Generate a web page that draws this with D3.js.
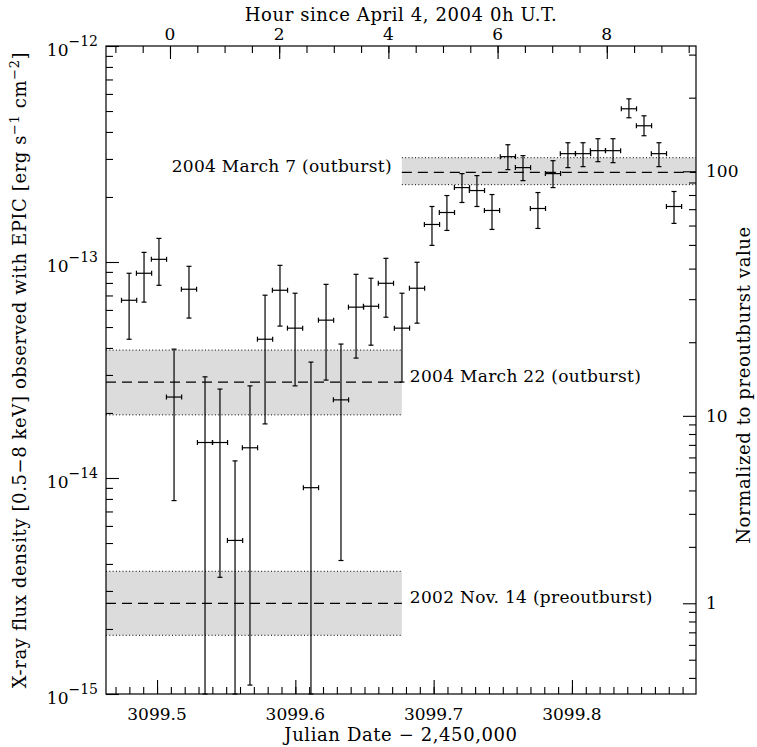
<!DOCTYPE html>
<html>
<head>
<meta charset="utf-8">
<script src="https://cdn.jsdelivr.net/npm/d3@7"></script>
<style>
body { margin: 0; background: #fff; }
text { font-family: "DejaVu Serif", serif; fill: #000; }
.title { font-size: 18px; letter-spacing: 0.6px; }
</style>
</head>
<body>
<div id="chart"></div>
<script>
// Setup chart dimensions
var svgWidth = 757;
var svgHeight = 747;
var margin = {top: 46, right: 61, bottom: 53, left: 106};
var width = svgWidth - margin.left - margin.right;
var height = svgHeight - margin.top - margin.bottom;

// Data: Julian date - 2,450,000 and flux (units of 1e-15 erg/s/cm2)
var jd = [3099.4798, 3099.4906, 3099.5014, 3099.5123, 3099.5231, 3099.5347, 3099.5455,
  3099.5564, 3099.5672, 3099.5781, 3099.5889, 3099.5998, 3099.6113, 3099.6222, 3099.6330,
  3099.6439, 3099.6547, 3099.6655, 3099.6771, 3099.6880, 3099.6988, 3099.7096, 3099.7205,
  3099.7313, 3099.7422, 3099.7537, 3099.7646, 3099.7754, 3099.7863, 3099.7971, 3099.8080,
  3099.8188, 3099.8297, 3099.8412, 3099.8521, 3099.8629, 3099.8738];
var jdErr = 0.0055;
var flux = [66.5, 88.7, 102.9, 23.7, 74.8, 14.6, 14.6, 5.14, 13.8, 43.9, 74.0, 49.4, 9.02,
  53.8, 23.0, 61.8, 62.4, 79.7, 49.4, 75.6, 149.2, 169.5, 221.1, 214.2, 173.2, 307.4, 273.5,
  176.9, 256.6, 317.4, 317.4, 327.7, 327.7, 512.0, 427.3, 317.4, 180.7];
var fluxHi = [88.7, 110.8, 128.6, 39.5, 95.5, 29.4, 25.8, 12.0, 26.7, 70.2, 96.5, 71.7, 34.4,
  78.8, 41.7, 87.7, 84.1, 104.0, 71.7, 99.7, 180.7, 203.1, 256.6, 251.2, 205.3, 349.1, 310.7,
  209.7, 294.5, 356.6, 356.6, 372.2, 372.2, 569.3, 475.2, 356.6, 212.0];
var fluxLo = [43.9, 65.2, 78.0, 7.86, 55.0, 0, 3.47, 0, 1.10, 17.8, 50.5, 26.7, 0,
  28.4, 4.15, 35.9, 41.2, 55.5, 27.8, 52.1, 119.4, 140.0, 188.6, 180.7, 141.5, 267.7, 238.1,
  143.0, 221.1, 273.5, 276.4, 291.4, 288.4, 465.3, 384.2, 276.4, 150.9];

// Reference levels (shaded bands)
var bandNames = ["2004 March 7 (outburst)", "2004 March 22 (outburst)", "2002 Nov. 14 (preoutburst)"];
var bandMid = [260, 27.8, 2.63];
var bandHigh = [304, 39.1, 3.70];
var bandLow = [228, 19.6, 1.87];
var bandSplit = 3099.677;
var preoutburst = 2.63;

// Axis ranges and ticks
var jdRange = [3099.4631, 3099.8897];
var hourRange = [-1.172, 9.634];
var fluxRange = [1, 1000];
var jdTicks = [3099.5, 3099.6, 3099.7, 3099.8];
var hourTicks = [0, 2, 4, 6, 8];
var decadeExp = [-15, -14, -13, -12];
var ratioTicks = [1, 10, 100];
// flux level at which the original figure puts its "10" mark on the right axis
var ratioTenAt = 19.4;
var ratioMinor = [0.4, 0.5, 0.6, 0.7, 0.8, 0.9, 2, 3, 4, 5, 6, 7, 8, 9,
  20, 30, 40, 50, 60, 70, 80, 90, 200, 300];

var svg = d3.select("#chart")
  .append("svg")
  .attr("width", svgWidth)
  .attr("height", svgHeight);

var chartGroup = svg.append("g")
  .attr("transform", `translate(${margin.left}, ${margin.top})`);

// Scales
var x = d3.scaleLinear().domain(jdRange).range([0, width]);
var xTop = d3.scaleLinear().domain(hourRange).range([0, width]);
var y = d3.scaleLog().domain(fluxRange).range([height, 0]).clamp(true);
var yR = d3.scaleLog()
  .domain([1, 10, 100])
  .range([y(preoutburst), y(ratioTenAt), y(preoutburst * 100)]);

function fy(v) { return y(Math.max(v, fluxRange[0])); }

// Bands
var bands = bandNames.map(function(name, i) {
  return {
    name: name, mid: bandMid[i], hi: bandHigh[i], lo: bandLow[i],
    x0: i === 0 ? bandSplit : jdRange[0],
    x1: i === 0 ? jdRange[1] : bandSplit,
    left: i === 0
  };
});

var bandGroup = chartGroup.selectAll("g.band")
  .data(bands)
  .enter()
  .append("g")
  .attr("class", "band");

bandGroup.append("rect")
  .attr("x", d => x(d.x0))
  .attr("width", d => x(d.x1) - x(d.x0))
  .attr("y", d => y(d.hi))
  .attr("height", d => y(d.lo) - y(d.hi))
  .attr("fill", "#dcdcdc");

["hi", "lo"].forEach(function(k) {
  bandGroup.append("line")
    .attr("x1", d => x(d.x0))
    .attr("x2", d => x(d.x1))
    .attr("y1", d => y(d[k]))
    .attr("y2", d => y(d[k]))
    .attr("stroke", "#000")
    .attr("stroke-width", 1)
    .attr("stroke-dasharray", "1,2.3");
});

bandGroup.append("line")
  .attr("x1", d => x(d.x0))
  .attr("x2", d => x(d.x1))
  .attr("y1", d => y(d.mid))
  .attr("y2", d => y(d.mid))
  .attr("stroke", "#000")
  .attr("stroke-width", 1.2)
  .attr("stroke-dasharray", "10,6");

bandGroup.append("text")
  .attr("x", d => d.left ? x(d.x0) - 10 : x(d.x1) + 8)
  .attr("y", d => y(d.mid))
  .attr("text-anchor", d => d.left ? "end" : "start")
  .attr("font-size", "17px")
  .attr("letter-spacing", "0.3px")
  .text(d => d.name);

// Error bars
var points = jd.map(function(t, i) {
  return {t: t, f: flux[i], hi: fluxHi[i], lo: fluxLo[i]};
});
var cap = 2.5;
var eb = chartGroup.selectAll("g.pt")
  .data(points)
  .enter()
  .append("g")
  .attr("class", "pt")
  .attr("stroke", "#000")
  .attr("stroke-width", 1.2);

eb.append("line")
  .attr("x1", d => x(d.t)).attr("x2", d => x(d.t))
  .attr("y1", d => fy(d.hi)).attr("y2", d => fy(d.lo));
eb.append("line")
  .attr("x1", d => x(d.t) - cap).attr("x2", d => x(d.t) + cap)
  .attr("y1", d => fy(d.hi)).attr("y2", d => fy(d.hi));
eb.append("line")
  .attr("x1", d => x(d.t) - cap).attr("x2", d => x(d.t) + cap)
  .attr("y1", d => fy(d.lo)).attr("y2", d => fy(d.lo));
eb.append("line")
  .attr("x1", d => x(d.t - jdErr)).attr("x2", d => x(d.t + jdErr))
  .attr("y1", d => fy(d.f)).attr("y2", d => fy(d.f));
eb.append("line")
  .attr("x1", d => x(d.t - jdErr)).attr("x2", d => x(d.t - jdErr))
  .attr("y1", d => fy(d.f) - cap).attr("y2", d => fy(d.f) + cap);
eb.append("line")
  .attr("x1", d => x(d.t + jdErr)).attr("x2", d => x(d.t + jdErr))
  .attr("y1", d => fy(d.f) - cap).attr("y2", d => fy(d.f) + cap);

// Tick marks (inward)
function ticks(axisFn, scale, values, size, transform) {
  chartGroup.append("g")
    .attr("transform", transform || null)
    .call(axisFn(scale).tickValues(values).tickSize(size).tickFormat(""))
    .call(g => g.select(".domain").remove())
    .call(g => g.selectAll("line").attr("stroke-width", 1.1));
}

var leftMajor = decadeExp.map(e => Math.pow(10, e + 15));
var leftMinor = [];
decadeExp.slice(0, 3).forEach(function(e) {
  for (var k = 2; k <= 9; k++) leftMinor.push(k * Math.pow(10, e + 15));
});
ticks(d3.axisLeft, y, leftMajor, -13);
ticks(d3.axisLeft, y, leftMinor, -7);

ticks(d3.axisRight, yR, ratioTicks, -13, `translate(${width},0)`);
ticks(d3.axisRight, yR, ratioMinor, -7, `translate(${width},0)`);

var jdMinor = d3.range(3099.47, 3099.885, 0.01).map(v => Math.round(v * 100) / 100);
ticks(d3.axisBottom, x, jdTicks, -14, `translate(0,${height})`);
ticks(d3.axisBottom, x, jdMinor, -7, `translate(0,${height})`);

var hourMinor = d3.range(-1, 9.6, 0.5);
ticks(d3.axisTop, xTop, hourTicks, -13);
ticks(d3.axisTop, xTop, hourMinor, -7);

// Frame
chartGroup.append("rect")
  .attr("width", width)
  .attr("height", height)
  .attr("fill", "none")
  .attr("stroke", "#000")
  .attr("stroke-width", 1.2);

// Tick labels
chartGroup.selectAll("text.jd")
  .data(jdTicks)
  .enter()
  .append("text")
  .attr("class", "jd")
  .attr("x", d => x(d))
  .attr("y", height + 26)
  .attr("text-anchor", "middle")
  .attr("font-size", "17px")
  .text(d => d3.format(".1f")(d));

chartGroup.selectAll("text.hr")
  .data(hourTicks)
  .enter()
  .append("text")
  .attr("class", "hr")
  .attr("x", d => xTop(d))
  .attr("y", -6)
  .attr("text-anchor", "middle")
  .attr("font-size", "17px")
  .text(d => d);

var expLabels = chartGroup.selectAll("text.exp")
  .data(decadeExp)
  .enter()
  .append("text")
  .attr("class", "exp")
  .attr("x", -8)
  .attr("y", d => y(Math.pow(10, d + 15)) + 10)
  .attr("text-anchor", "end")
  .attr("font-size", "17px");
expLabels.append("tspan").text("10");
expLabels.append("tspan").attr("dy", -10).attr("font-size", "14px").text(d => "\u2212" + (-d));

chartGroup.selectAll("text.ratio")
  .data(ratioTicks)
  .enter()
  .append("text")
  .attr("class", "ratio")
  .attr("x", width + 10)
  .attr("y", d => yR(d) + 6)
  .attr("font-size", "17px")
  .text(d => d);

// Axis titles
chartGroup.append("text")
  .attr("class", "title")
  .attr("x", width / 2)
  .attr("y", -25)
  .attr("text-anchor", "middle")
  .text("Hour since April 4, 2004 0h U.T.");

chartGroup.append("text")
  .attr("class", "title")
  .attr("x", width / 2)
  .attr("y", height + 47)
  .attr("text-anchor", "middle")
  .text("Julian Date \u2212 2,450,000");

var yTitle = chartGroup.append("text")
  .attr("class", "title")
  .attr("transform", `translate(${-margin.left + 26}, ${height / 2}) rotate(-90)`)
  .attr("text-anchor", "middle");
yTitle.append("tspan").text("X-ray flux density [0.5\u22128 keV] observed with EPIC [erg s");
yTitle.append("tspan").attr("dy", -7).attr("font-size", "13px").text("\u22121");
yTitle.append("tspan").attr("dy", 7).text(" cm");
yTitle.append("tspan").attr("dy", -7).attr("font-size", "13px").text("\u22122");
yTitle.append("tspan").attr("dy", 7).text("]");

chartGroup.append("text")
  .attr("class", "title")
  .attr("transform", `translate(${width + 54}, ${height / 2 + 15}) rotate(-90)`)
  .attr("text-anchor", "middle")
  .text("Normalized to preoutburst value");
</script>
</body>
</html>
